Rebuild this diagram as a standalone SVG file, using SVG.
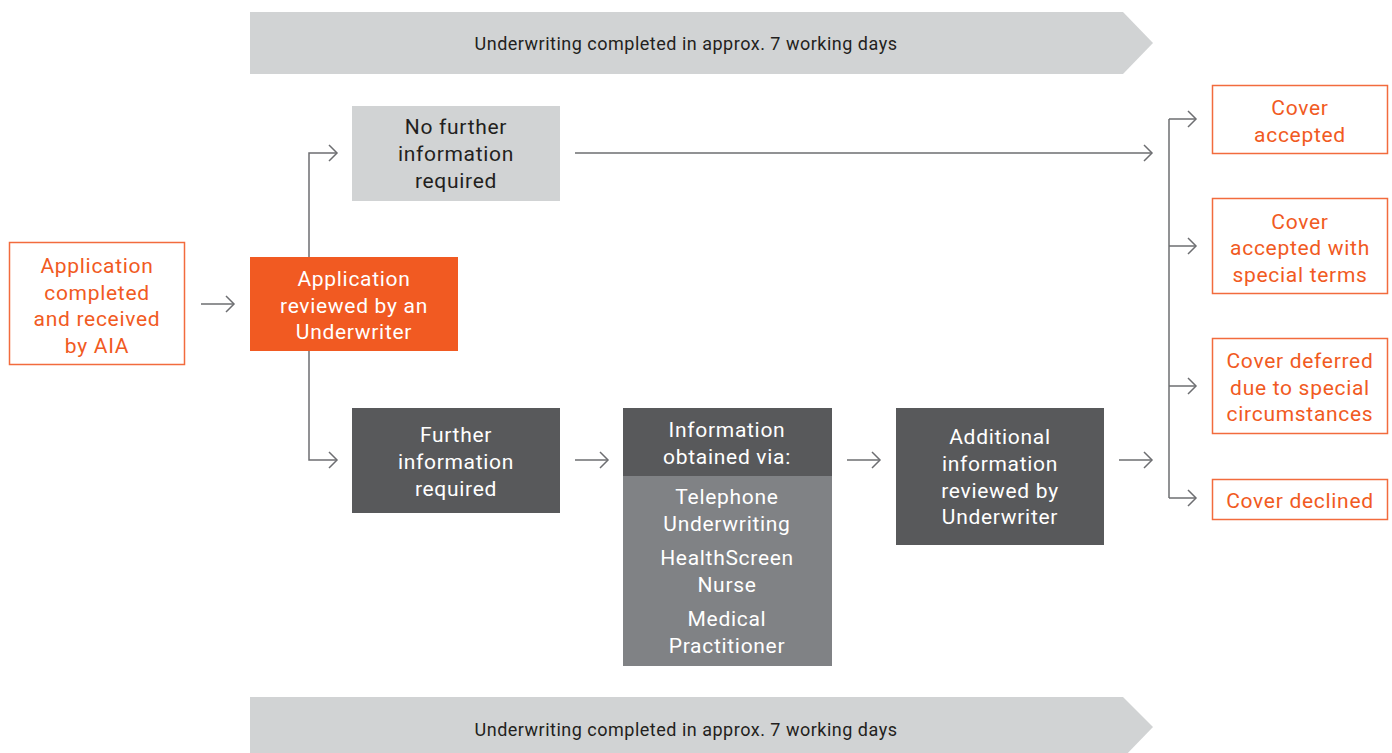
<svg xmlns="http://www.w3.org/2000/svg" width="1392" height="753" viewBox="0 0 1392 753">
<style>
text{font-family:Roboto,"Noto Sans","Liberation Sans",sans-serif;font-size:21px;letter-spacing:0.7px;text-anchor:middle}
.or{fill:#f15a22}
.wh{fill:#ffffff}
.bk{fill:#231f20}
.ban{fill:#231f20;font-size:18px;letter-spacing:0.5px}
.obox{fill:#ffffff;stroke:#f26b3d;stroke-width:1.5}
.conn{fill:none;stroke:#6d6e71;stroke-width:1.5}
</style>
<defs>
<marker id="ah" markerWidth="12" markerHeight="20" refX="9" refY="10" orient="auto" markerUnits="userSpaceOnUse">
<path d="M1,2 L9,10 L1,18" fill="none" stroke="#6d6e71" stroke-width="1.5"/>
</marker>
</defs>
<g id="banner-top">
<polygon points="250,12 1123,12 1153,43 1123,74 250,74" fill="#d1d3d4"/>
<text class="ban" x="686" y="50">Underwriting completed in approx. 7 working days</text>
</g>
<g id="banner-bottom">
<polygon points="250,697 1123,697 1153,727 1123,758 250,758" fill="#d1d3d4"/>
<text class="ban" x="686" y="736">Underwriting completed in approx. 7 working days</text>
</g>
<g id="connectors">
<line class="conn" x1="201" y1="304" x2="234" y2="304" marker-end="url(#ah)"/>
<polyline class="conn" points="309,257 309,153 337,153" marker-end="url(#ah)"/>
<polyline class="conn" points="309,351 309,460 337,460" marker-end="url(#ah)"/>
<line class="conn" x1="575" y1="153" x2="1152" y2="153" marker-end="url(#ah)"/>
<line class="conn" x1="575" y1="460" x2="608" y2="460" marker-end="url(#ah)"/>
<line class="conn" x1="847" y1="460" x2="880" y2="460" marker-end="url(#ah)"/>
<line class="conn" x1="1119" y1="460" x2="1152" y2="460" marker-end="url(#ah)"/>
<line class="conn" x1="1169" y1="119" x2="1169" y2="498"/>
<line class="conn" x1="1169" y1="119" x2="1196" y2="119" marker-end="url(#ah)"/>
<line class="conn" x1="1169" y1="246" x2="1196" y2="246" marker-end="url(#ah)"/>
<line class="conn" x1="1169" y1="386" x2="1196" y2="386" marker-end="url(#ah)"/>
<line class="conn" x1="1169" y1="498" x2="1196" y2="498" marker-end="url(#ah)"/>
</g>
<g id="app-received">
<rect class="obox" x="9.5" y="242.5" width="175" height="122"/>
<text class="or" x="97" y="273">Application</text>
<text class="or" x="97" y="300">completed</text>
<text class="or" x="97" y="326">and received</text>
<text class="or" x="97" y="353">by AIA</text>
</g>
<g id="app-reviewed">
<rect x="250" y="257" width="208" height="94" fill="#f15a22"/>
<text class="wh" x="354" y="286">Application</text>
<text class="wh" x="354" y="313">reviewed by an</text>
<text class="wh" x="354" y="339">Underwriter</text>
</g>
<g id="no-further">
<rect x="352" y="106" width="208" height="95" fill="#d1d3d4"/>
<text class="bk" x="456" y="134">No further</text>
<text class="bk" x="456" y="161">information</text>
<text class="bk" x="456" y="188">required</text>
</g>
<g id="further">
<rect x="352" y="408" width="208" height="105" fill="#58595b"/>
<text class="wh" x="456" y="442">Further</text>
<text class="wh" x="456" y="469">information</text>
<text class="wh" x="456" y="496">required</text>
</g>
<g id="info-obtained">
<rect x="623" y="408" width="209" height="68" fill="#58595b"/>
<rect x="623" y="476" width="209" height="190" fill="#808285"/>
<text class="wh" x="727" y="437">Information</text>
<text class="wh" x="727" y="464">obtained via:</text>
<text class="wh" x="727" y="504">Telephone</text>
<text class="wh" x="727" y="531">Underwriting</text>
<text class="wh" x="727" y="565">HealthScreen</text>
<text class="wh" x="727" y="592">Nurse</text>
<text class="wh" x="727" y="626">Medical</text>
<text class="wh" x="727" y="653">Practitioner</text>
</g>
<g id="additional">
<rect x="896" y="408" width="208" height="137" fill="#58595b"/>
<text class="wh" x="1000" y="444">Additional</text>
<text class="wh" x="1000" y="471">information</text>
<text class="wh" x="1000" y="498">reviewed by</text>
<text class="wh" x="1000" y="524">Underwriter</text>
</g>
<g id="cover-accepted">
<rect class="obox" x="1212.5" y="85.5" width="175" height="68"/>
<text class="or" x="1300" y="115">Cover</text>
<text class="or" x="1300" y="142">accepted</text>
</g>
<g id="cover-special">
<rect class="obox" x="1212.5" y="198.5" width="175" height="95"/>
<text class="or" x="1300" y="229">Cover</text>
<text class="or" x="1300" y="255">accepted with</text>
<text class="or" x="1300" y="282">special terms</text>
</g>
<g id="cover-deferred">
<rect class="obox" x="1212.5" y="338.5" width="175" height="95"/>
<text class="or" x="1300" y="368">Cover deferred</text>
<text class="or" x="1300" y="395">due to special</text>
<text class="or" x="1300" y="421">circumstances</text>
</g>
<g id="cover-declined">
<rect class="obox" x="1212.5" y="479.5" width="175" height="40"/>
<text class="or" x="1300" y="508">Cover declined</text>
</g>
</svg>
